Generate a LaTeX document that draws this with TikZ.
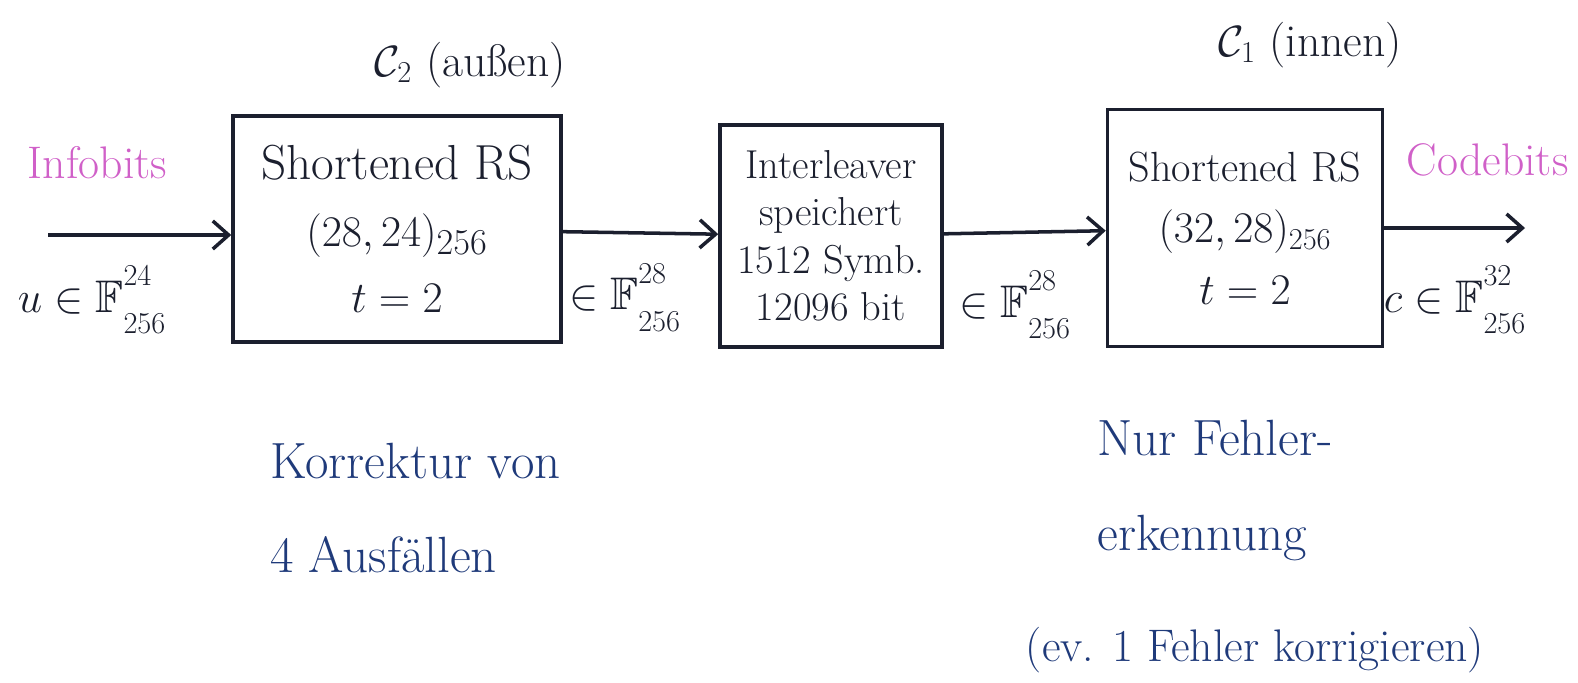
\documentclass[tikz,border=0pt]{standalone}
\usepackage{amsmath,amssymb}
\usetikzlibrary{arrows.meta}
\definecolor{ink}{HTML}{1B1F2E}
\definecolor{pen}{HTML}{1F3A7A}
\definecolor{pink}{HTML}{D060C8}
\newcommand{\fld}[2]{\mathbb{F}^{\raisebox{6pt}{$\scriptstyle #1$}}_{\raisebox{-6pt}{$\scriptstyle #2$}}}

\begin{document}
\begin{tikzpicture}[>={Straight Barb[length=9pt,width=16pt]}, line width=2pt, ink]

\tikzset{
  block/.style={draw=ink, line width=2pt, align=center, inner sep=0pt},
  field/.style={text=ink, inner sep=1pt, font=\fontsize{26}{30}\selectfont},
  note/.style={text=pen, align=left, font=\fontsize{29}{54}\selectfont},
  tag/.style={text=pink, font=\fontsize{26}{30}\selectfont},
  code/.style={text=ink, font=\fontsize{26}{30}\selectfont}
}

\useasboundingbox (0, 0) rectangle (31.56, -13.64);

% The three blocks of the chain
\node[block, minimum width=6.56cm, minimum height=4.52cm,
      font=\fontsize{28}{38}\selectfont] (b1) at (7.94, -4.58)
  {Shortened RS\\ $(28,24)_{256}$\\ $t=2$};
\node[block, minimum width=4.44cm, minimum height=4.44cm,
      font=\fontsize{23}{27}\selectfont] (b2) at (16.62, -4.72)
  {Interleaver\\ speichert\\ 1512 Symb.\\ 12096 bit};
\node[block, minimum width=5.5cm, minimum height=4.74cm,
      font=\fontsize{24}{35}\selectfont] (b3) at (24.9, -4.56)
  {Shortened RS\\ $(32,28)_{256}$\\ $t=2$};

% Codes above the blocks
\node[code] (c2) at (9.4, -1.3) {$\mathcal{C}_2$ (au\ss en)};
\node[code] (c1) at (26.2, -0.9) {$\mathcal{C}_1$ (innen)};

% In and out
\coordinate (in) at (0.96, -4.7);
\coordinate (out) at (30.5, -4.3);
\draw[->] (in) -- (in -| b1.west);
\draw[->] (b1) -- (b2);
\draw[->] (b2) -- (b3);
\draw[->] (b3.east) -- (b3.east -| out);

\node[tag] (info) at (1.95, -3.26) {Infobits};
\node[tag] (cbits) at (29.75, -3.2) {Codebits};

% Alphabets on the links
\node[field] (fu) at (1.84, -6.0) {$u\in\fld{24}{256}$};
\node[field] (f1) at (12.5, -5.95) {$\in\fld{28}{256}$};
\node[field] (f2) at (20.3, -6.1) {$\in\fld{28}{256}$};
\node[field] (fc) at (29.1, -6.0) {$c\in\fld{32}{256}$};

% Remarks below
\node[note, anchor=north west] (r1) at (5.25, -8.7)
  {Korrektur von\\ 4 Ausf\"allen};
\node[note, anchor=north west] (r2) at (21.8, -8.25)
  {Nur Fehler-\\ erkennung};
\node[note, font=\fontsize{26}{30}\selectfont] (r3) at (25.1, -13.0)
  {(ev. 1 Fehler korrigieren)};

\end{tikzpicture}
\end{document}
